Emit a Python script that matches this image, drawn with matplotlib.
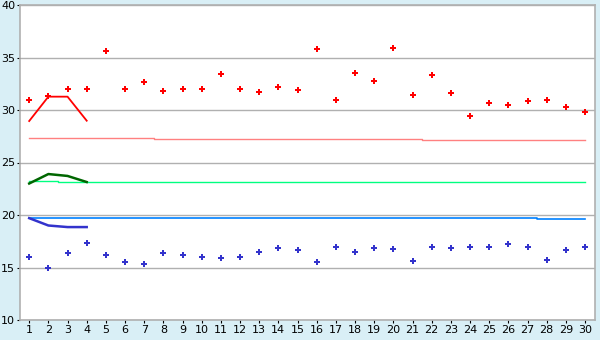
import numpy as np
import matplotlib
matplotlib.use("Agg")
import matplotlib.pyplot as plt

days = np.arange(1, 31)

# upper series (red) and lower series (blue)
upper = [31.0, 31.3, 32.0, 32.0, 35.6, 32.0, 32.7, 31.8, 32.0, 32.0,
         33.4, 32.0, 31.7, 32.2, 31.9, 35.8, 31.0, 33.5, 32.8, 35.9,
         31.4, 33.3, 31.6, 29.4, 30.7, 30.5, 30.9, 31.0, 30.3, 29.8]
lower = [16.0, 15.0, 16.35, 17.3, 16.2, 15.5, 15.3, 16.35, 16.2, 16.0,
         15.9, 16.0, 16.45, 16.9, 16.65, 15.5, 17.0, 16.45, 16.9, 16.75,
         15.6, 17.0, 16.85, 17.0, 17.0, 17.2, 17.0, 15.7, 16.65, 17.0]

# short trend lines over the first four days
trend_days = [1, 2, 3, 4]
red_trend = [28.95, 31.27, 31.27, 28.98]
green_trend = [23.0, 23.9, 23.72, 23.14]
navy_trend = [19.7, 19.0, 18.85, 18.85]

# long step lines
pink_line = [27.33] * 7 + [27.2] * 14 + [27.1] * 9
lime_line = [23.2] * 2 + [23.11] * 28
azure_line = [19.69] * 27 + [19.59] * 3

bg = '#d9eff6'
fig = plt.figure(figsize=(6, 3.4), dpi=100, facecolor=bg)
ax = fig.add_axes([20 / 600, 20 / 340, 575 / 600, 315 / 340])
ax.set_facecolor('white')

ax.plot(days, pink_line, color='#ff8080', lw=1, drawstyle='steps-mid')
ax.plot(days, lime_line, color='#00ff80', lw=1, drawstyle='steps-mid')
ax.plot(days, azure_line, color='#0080ff', lw=1.2, drawstyle='steps-mid')

ax.plot(trend_days, red_trend, color='#ff0000', lw=1.3)
ax.plot(trend_days, green_trend, color='#006600', lw=1.8)
ax.plot(trend_days, navy_trend, color='#3333cc', lw=1.8)

ax.plot(days, upper, ls='none', marker='P', ms=4.6, color='#ff0000', mew=0)
ax.plot(days, lower, ls='none', marker='P', ms=4.6, color='#3333cc', mew=0)

ax.set_xlim(0.52, 30.52)
ax.set_ylim(10, 40)
ax.set_xticks(days)
ax.set_yticks(range(10, 41, 5))
ax.tick_params(labelsize=8, length=2.5, color='black', pad=1)
ax.grid(axis='y', color='#b0b0b0', lw=1)
ax.set_axisbelow(True)
for s in ax.spines.values():
    s.set_color('#b0b0b0')
    s.set_linewidth(1.2)

fig.savefig('out.png', dpi=100, facecolor=bg)
plt.close(fig)
